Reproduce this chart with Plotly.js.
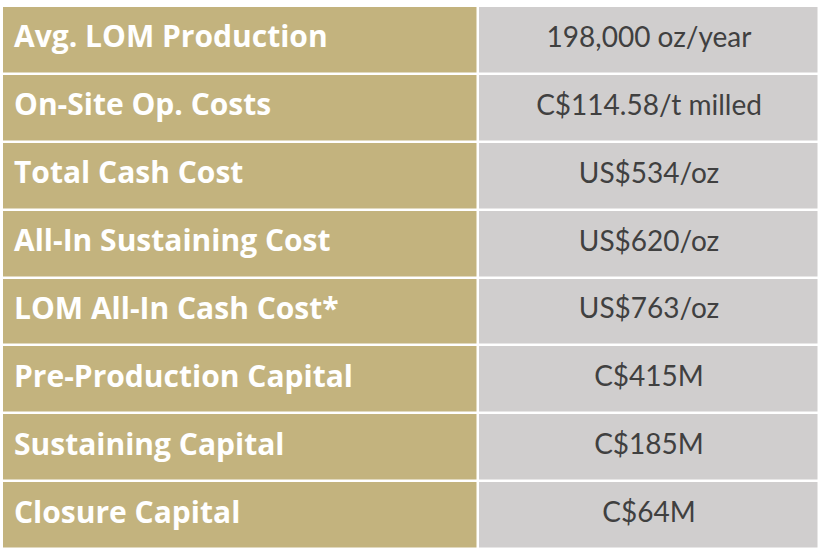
<!DOCTYPE html>
<html><head><meta charset="utf-8">
<script src="https://cdn.plot.ly/plotly-3.0.1.min.js"></script>
<style>body{margin:0;padding:0;background:#fff}#chart{width:822px;height:560px}</style>
</head><body><div id="chart"></div>
<script>
const metrics = ['Avg. LOM Production','On-Site Op. Costs','Total Cash Cost','All-In Sustaining Cost','LOM All-In Cash Cost*','Pre-Production Capital','Sustaining Capital','Closure Capital'];
const values = ['198,000 oz/year','C$114.58/t milled','US$534/oz','US$620/oz','US$763/oz','C$415M','C$185M','C$64M'];

const gold = '#C3B37E', gray = '#D0CECE';
const n = metrics.length;
const rowIdx = metrics.map((_, i) => i + 0.5);
const yEdges = Array.from({length: n + 1}, (_, i) => i);
const colEdges = [0, 476, 817];

const fillTrace = {
  type: 'heatmap',
  x: colEdges,
  y: yEdges,
  z: metrics.map(() => [0, 1]),
  colorscale: [[0, gold], [1, gray]],
  zmin: 0, zmax: 1,
  showscale: false,
  xgap: 2.5, ygap: 2.5,
  hoverinfo: 'skip'
};
const labelTrace = {
  type: 'scatter', mode: 'text',
  x: metrics.map(() => 12),
  y: rowIdx,
  text: metrics,
  textposition: 'middle right',
  textfont: {family: 'Open Sans', size: 30, color: '#ffffff', weight: 700},
  hoverinfo: 'skip'
};
const valueTrace = {
  type: 'scatter', mode: 'text',
  x: values.map(() => 647),
  y: rowIdx,
  text: values,
  textposition: 'middle center',
  textfont: {family: 'Lato', size: 28, color: '#404040'},
  hoverinfo: 'skip'
};
const hidden = {showgrid: false, zeroline: false, showticklabels: false, ticks: '', showline: false, fixedrange: true};
const layout = {
  width: 822, height: 560,
  margin: {l: 2, r: 3, t: 6, b: 11, pad: 0},
  paper_bgcolor: '#ffffff', plot_bgcolor: '#ffffff',
  showlegend: false,
  xaxis: Object.assign({range: [0, 817]}, hidden),
  yaxis: Object.assign({range: [n, 0]}, hidden)
};
Plotly.newPlot('chart', [fillTrace, labelTrace, valueTrace], layout, {displayModeBar: false, staticPlot: true});
</script></body></html>
